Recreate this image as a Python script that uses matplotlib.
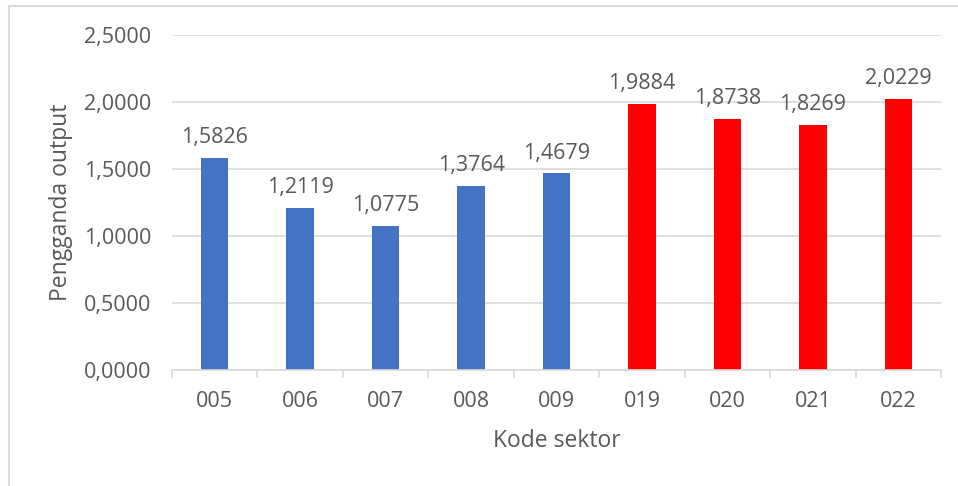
import matplotlib.pyplot as plt
import numpy as np
from matplotlib.patches import Rectangle

plt.rcParams['font.family'] = ['Open Sans', 'DejaVu Sans']

# data
sektor = ["005", "006", "007", "008", "009", "019", "020", "021", "022"]
nilai = [1.5826, 1.2119, 1.0775, 1.3764, 1.4679, 1.9884, 1.8738, 1.8269, 2.0229]
warna = ["#4472C4"] * 5 + ["#FF0000"] * 4

teks = "#595959"
grid = "#D9D9D9"

fig = plt.figure(figsize=(9.58, 4.86), dpi=100)
ax = fig.add_axes([172/958, 1 - 370/486, (941 - 172)/958, (370 - 35)/486])

x = np.arange(len(sektor))
ax.bar(x, nilai, width=0.32, color=warna, zorder=3)

for xi, v in zip(x, nilai):
    ax.annotate(f"{v:.4f}".replace(".", ","), (xi, v), xytext=(0, 7),
                textcoords="offset points", ha="center", va="bottom",
                fontsize=15.5, color=teks)

ax.set_xlim(-0.5, len(sektor) - 0.5)
ax.set_ylim(0, 2.5)
yt = np.arange(0, 2.51, 0.5)
ax.set_yticks(yt)
ax.set_yticklabels([f"{t:.4f}".replace(".", ",") for t in yt])
ax.set_xticks(x)
ax.set_xticklabels(sektor)
ax.set_xticks(np.arange(-0.5, len(sektor)), minor=True)
ax.tick_params(axis="x", which="major", length=0, pad=15, labelsize=15.5, labelcolor=teks)
ax.tick_params(axis="x", which="minor", length=6, width=1.2, color=grid)
ax.tick_params(axis="y", length=0, pad=15, labelsize=15.5, labelcolor=teks)

ax.grid(axis="y", color=grid, linewidth=1.2, zorder=0)
for s in ["top", "right", "left"]:
    ax.spines[s].set_visible(False)
ax.spines["bottom"].set_color(grid)
ax.spines["bottom"].set_linewidth(1.2)
ax.spines["bottom"].set_zorder(4)

ax.set_xlabel("Kode sektor", fontsize=16.5, color=teks, labelpad=12)
ax.set_ylabel("Pengganda output", fontsize=16.5, color=teks, labelpad=8)

# chart frame
fig.patches.append(Rectangle((9/958, -0.1), 1.1, 1 - 6/486 + 0.1, transform=fig.transFigure,
                             fill=False, edgecolor="#D9D9D9", linewidth=1.5))

fig.savefig("out.png", dpi=100)
